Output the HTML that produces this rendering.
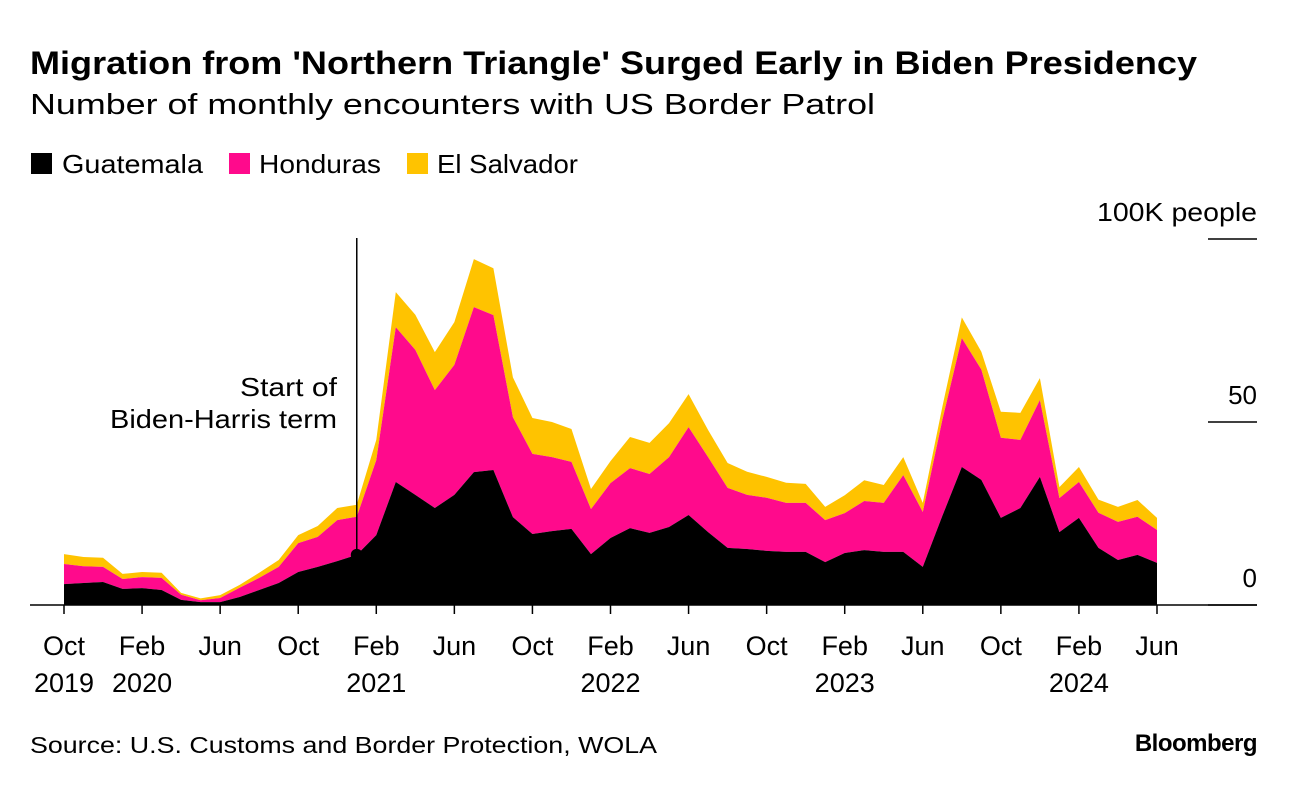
<!DOCTYPE html>
<html><head><meta charset="utf-8"><style>
body{margin:0;background:#fff;width:1296px;height:786px;overflow:hidden;font-family:"Liberation Sans",Arial,sans-serif;}
</style></head><body>
<svg width="1296" height="786" viewBox="0 0 1296 786" xmlns="http://www.w3.org/2000/svg" font-family="Liberation Sans, Arial, sans-serif">
<text x="30" y="74" font-size="32" font-weight="bold" fill="#000" textLength="1167" lengthAdjust="spacingAndGlyphs">Migration from 'Northern Triangle' Surged Early in Biden Presidency</text>
<text x="30" y="114" font-size="29" fill="#000" textLength="845" lengthAdjust="spacingAndGlyphs">Number of monthly encounters with US Border Patrol</text>
<g>
<rect x="31" y="153" width="21" height="21" fill="#000"/>
<text x="62" y="173" font-size="26" textLength="141" lengthAdjust="spacingAndGlyphs">Guatemala</text>
<rect x="229" y="153" width="21" height="21" fill="#ff0a8c"/>
<text x="259" y="173" font-size="26" textLength="122" lengthAdjust="spacingAndGlyphs">Honduras</text>
<rect x="407" y="153" width="21" height="21" fill="#ffc300"/>
<text x="437" y="173" font-size="26" textLength="141" lengthAdjust="spacingAndGlyphs">El Salvador</text>
</g>
<g id="plot"></g>
<text x="30" y="753" font-size="23" textLength="627" lengthAdjust="spacingAndGlyphs">Source: U.S. Customs and Border Protection, WOLA</text>
<text x="1257" y="751" font-size="24" font-weight="bold" text-anchor="end" letter-spacing="-0.5">Bloomberg</text>
</svg>
<script>
const guatemala=[5.7,6.0,6.3,4.4,4.6,4.1,1.4,0.8,0.8,2.2,4.1,6.0,9.0,10.4,12.0,13.7,19.1,33.6,30.1,26.5,30.1,36.3,36.9,24.0,19.4,20.2,20.8,13.9,18.3,21.0,19.7,21.3,24.6,19.9,15.6,15.3,14.8,14.5,14.5,11.7,14.2,15.0,14.5,14.5,10.4,24.3,37.7,34.2,23.8,26.5,35.0,19.9,23.8,15.6,12.3,13.7,11.5];
const honduras=[5.5,4.6,4.1,2.7,3.0,3.3,1.4,0.5,1.1,2.5,3.3,4.4,7.9,8.2,11.2,10.4,20.5,42.3,39.6,32.2,35.5,45.1,42.3,27.3,21.9,20.2,18.3,12.3,15.0,16.4,16.1,19.1,24.0,20.5,16.4,14.8,14.5,13.4,13.4,11.5,10.9,13.4,13.4,21.0,15.0,26.2,35.2,30.1,21.9,18.6,21.0,9.3,9.8,9.6,10.4,10.4,9.0];
const elSalvador=[2.7,2.5,2.5,1.4,1.4,1.4,0.5,0.5,0.8,0.8,1.4,1.9,2.2,3.0,3.3,3.3,5.5,9.6,9.6,10.4,11.7,13.1,12.8,10.9,9.8,9.6,9.0,5.5,6.0,8.5,8.5,9.3,9.0,7.4,6.8,6.3,5.7,5.5,5.2,3.6,4.9,5.7,4.9,4.9,2.5,3.6,5.7,4.9,7.1,7.4,6.0,3.0,4.1,3.6,4.1,4.6,3.3];
const xTickMonths=[0,4,8,12,16,20,24,28,32,36,40,44,48,52,56];
const xTickLabels=[["Oct","2019"],["Feb","2020"],["Jun",""],["Oct",""],["Feb","2021"],["Jun",""],["Oct",""],["Feb","2022"],["Jun",""],["Oct",""],["Feb","2023"],["Jun",""],["Oct",""],["Feb","2024"],["Jun",""]];
const yTicks=[0,50,100];
const yTickLabels=["0","50","100K people"];
const bidenMonth=15.0;

const NS="http://www.w3.org/2000/svg";
const plot=document.getElementById('plot');
const X0=64,PXM=(1157-64)/56,Y0=605,PXV=3.66;
const xs=i=>X0+i*PXM, ys=v=>Y0-v*PXV;
function mk(tag,attrs){const e=document.createElementNS(NS,tag);for(const k in attrs)e.setAttribute(k,attrs[k]);return e;}
const n=guatemala.length;
const c1=guatemala.map(v=>v);
const c2=guatemala.map((v,i)=>v+honduras[i]);
const c3=c2.map((v,i)=>v+elSalvador[i]);
function area(top,bot,color,name){
  let d='M'+xs(0)+','+ys(top[0]);
  for(let i=1;i<n;i++)d+='L'+xs(i)+','+ys(top[i]);
  for(let i=n-1;i>=0;i--)d+='L'+xs(i)+','+ys(bot?bot[i]:0);
  d+='Z';
  const p=mk('path',{d:d,fill:color});
  
  
  plot.appendChild(p);
}
area(c3,c2,'#ffc300','area-el-salvador');
area(c2,c1,'#ff0a8c','area-honduras');
area(c1,null,'#000','area-guatemala');
yTicks.forEach((v,i)=>{
  const l=mk('line',{x1:1208,x2:1257,y1:ys(v),y2:ys(v),stroke:'#000','stroke-width':1.5});
  
  
  plot.appendChild(l);
  const t=mk('text',{x:1257,y:ys(v)-18,'font-size':26,'text-anchor':'end'});
  if(i===2){t.setAttribute('textLength',160);t.setAttribute('lengthAdjust','spacingAndGlyphs');}
  t.textContent=yTickLabels[i];
  
  
  plot.appendChild(t);
});
const base=mk('line',{x1:30,x2:1257,y1:Y0,y2:Y0,stroke:'#000','stroke-width':1.5});


plot.appendChild(base);
xTickMonths.forEach((m,i)=>{
  const x=xs(m);
  const tk=mk('line',{x1:x,x2:x,y1:Y0,y2:Y0+9,stroke:'#000','stroke-width':1.5});
  
  
  plot.appendChild(tk);
  const t=mk('text',{x:x,y:655,'font-size':27,'text-anchor':'middle'});
  t.textContent=xTickLabels[i][0];
  
  
  plot.appendChild(t);
  if(xTickLabels[i][1]){
    const t2=mk('text',{x:x,y:692,'font-size':27,'text-anchor':'middle'});
    t2.textContent=xTickLabels[i][1];
    
    
    plot.appendChild(t2);
  }
});
const bx=xs(bidenMonth);
const bi=Math.floor(bidenMonth),bf=bidenMonth-bi;
const byv=c1[bi]+(c1[bi+1]-c1[bi])*bf;
const bl=mk('line',{x1:bx,x2:bx,y1:238,y2:ys(byv),stroke:'#000','stroke-width':1.5});


plot.appendChild(bl);
const dot=mk('circle',{cx:bx,cy:ys(byv),r:6,fill:'#000'});


plot.appendChild(dot);
[["Start of",396,97],["Biden-Harris term",428,227]].forEach(a=>{
  const t=mk('text',{x:337,y:a[1],'font-size':26,'text-anchor':'end',textLength:a[2],lengthAdjust:'spacingAndGlyphs'});
  t.textContent=a[0];
  
  
  plot.appendChild(t);
});
</script>
</body></html>
